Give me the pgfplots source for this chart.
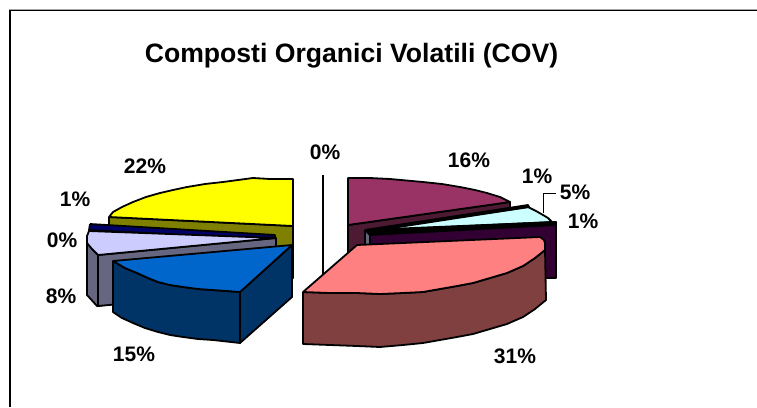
\documentclass[border=0pt]{standalone}
\usepackage{pgfplots}
\usepackage{fontspec}
\setmainfont{Liberation Sans}
\pgfplotsset{compat=1.18}
\definecolor{cyel}{RGB}{255,255,0}
\definecolor{colive}{RGB}{128,128,0}
\definecolor{cnavy}{RGB}{0,0,102}
\definecolor{clav}{RGB}{204,204,255}
\definecolor{cgrey}{RGB}{102,102,128}
\definecolor{cblue}{RGB}{0,102,204}
\definecolor{cdblue}{RGB}{0,51,102}
\definecolor{cpur}{RGB}{153,51,102}
\definecolor{cdpur}{RGB}{77,26,51}
\definecolor{ccyan}{RGB}{204,255,255}
\definecolor{cdark}{RGB}{51,0,51}
\definecolor{csal}{RGB}{255,128,128}
\definecolor{cbrown}{RGB}{128,64,64}
\pgfplotsset{slice/.style={draw=black,line width=1.8pt,line join=round,fill=#1,mark=none}}
\begin{document}
\begin{tikzpicture}
\begin{axis}[scale only axis,width=757pt,height=407pt,xmin=0,xmax=757,ymin=0,ymax=407,y dir=reverse,hide axis,clip=true]
\addplot[draw=white,line width=0pt,mark=none] coordinates {(0,0)(757,0)(757,407)(0,407)};
% frame
\addplot[black!35,line width=0.8pt,mark=none] coordinates {(9,407)(9,9)(757,9)};
\addplot[black,line width=1.1pt,mark=none] coordinates {(10,407)(10,10.5)(757,10.5)};
% zero slice
\addplot[black,line width=2pt,mark=none] coordinates {(323,175)(323,275)};
% yellow
\addplot[slice=colive] coordinates {(109,217)(293,226)(293,278)(109,270)(109,217)};
\addplot[slice=cyel] coordinates {(293,226)(293,179)(270,179)(253,178)(238,180)(223,182)(205,184)(187,187)(173,190)(160,193)(146,197)(133,202)(122,207)(113,212)(109,217)(293,226)};
% navy thin
\addplot[slice=cnavy] coordinates {(90,224)(275,235)(275,240)(89,230)(90,224)};
% lavender side
\addplot[slice=cgrey] coordinates {(87,243)(87,295)(97,306)(113,304)(98,255)(87,243)};
\addplot[slice=cgrey] coordinates {(98,255)(276,238)(276,290)(98,306)(98,255)};
\addplot[slice=clav] coordinates {(276,238)(89,231)(87,236)(87,243)(92,249)(98,255)(276,238)};
% blue
\addplot[slice=cdblue] coordinates {(240,292)(292,245)(292,297)(240,343)(240,292)};
\addplot[slice=cdblue] coordinates {(113,261)(125,268)(137,273)(148,278)(158,282)(170,285)(183,287)(198,289)(213,290)(240,292)(240,343)(213,340)(198,339)(183,337)(170,335)(158,332)(145,328)(133,323)(122,318)(113,312)(113,261)};
\addplot[slice=cblue] coordinates {(292,245)(113,261)(125,268)(137,273)(148,278)(158,282)(170,285)(183,287)(198,289)(213,290)(240,292)(292,245)};
% purple
\addplot[slice=cdpur] coordinates {(348,225)(510,202)(510,255)(348,278)(348,225)};
\addplot[slice=cpur] coordinates {(348,225)(348,178)(370,178)(390,179)(423,182)(442,184)(460,187)(475,190)(487,193)(500,197)(510,202)(348,225)};
% thin + cyan + dark
\addplot[slice=ccyan] coordinates {(365,231)(528,207)(536,211)(543,215)(548,218)(552,222)(365,231)};
\addplot[slice=black] coordinates {(365,230)(528,205)(529,207)(366,232)(365,230)};
\addplot[slice=cgrey] coordinates {(365,231)(372,231)(372,278)(365,278)(365,231)};
\addplot[slice=black] coordinates {(365,230)(556,222)(556,226)(370,235)(365,230)};
\addplot[slice=cdark] coordinates {(370,235)(556,225)(556,278)(370,278)(370,235)};
% salmon
\addplot[slice=cbrown] coordinates {(303,292)(330,293)(357,293)(380,294)(403,293)(423,292)(440,289)(457,286)(473,283)(490,278)(507,273)(523,266)(535,258)(545,250)(546,300)(535,309)(523,317)(507,324)(490,329)(473,334)(457,337)(440,340)(423,343)(403,345)(380,347)(357,346)(330,345)(303,344)(303,292)};
\addplot[slice=csal] coordinates {(357,245)(540,237)(544,240)(545,243)(545,250)(535,258)(523,266)(507,273)(490,278)(473,283)(457,286)(440,289)(423,292)(403,293)(380,294)(357,293)(330,293)(303,292)(357,245)};
% leader
\addplot[black,line width=0.8pt,mark=none] coordinates {(543,213)(543,193)(556,193)};
% text
\node[font=\fontsize{26.6}{26.6}\selectfont\bfseries] at (axis cs:351.5,56) {Composti Organici Volatili (COV)};
\foreach \x/\y/\t in {145/166/22,75/199/1,62/240/0,61/296/8,134/354/15,325/152/0,469/160/16,537/176/1,575/192/5,583/221/1,515/356/31}{
\edef\tmp{\noexpand\node[font=\noexpand\fontsize{21}{21}\noexpand\selectfont\noexpand\bfseries] at (axis cs:\x,\y) {\t\noexpand\%};}\tmp
}
\end{axis}
\end{tikzpicture}
\end{document}
